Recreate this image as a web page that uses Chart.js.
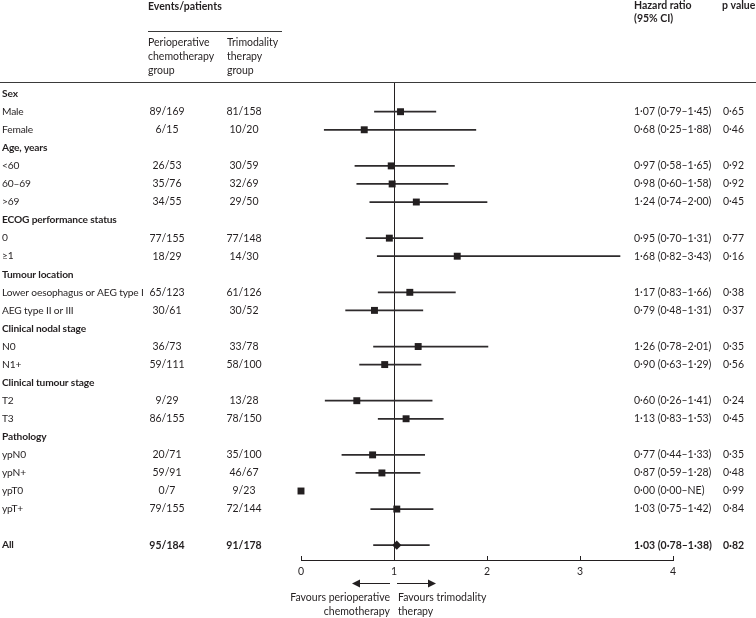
<!DOCTYPE html>
<html>
<head>
<meta charset="utf-8">
<title>Forest plot</title>
<script src="https://cdn.jsdelivr.net/npm/chart.js@4.4.1/dist/chart.umd.min.js"></script>
<style>
  html, body { margin: 0; padding: 0; background: #fff; }
  canvas { display: block; }
</style>
</head>
<body>
<canvas id="forestChart" width="756" height="618"></canvas>
<script>
'use strict';

// ROWS, TOP TO BOTTOM (HEADING ROWS HAVE NO VALUES)
var rowLabels = ["Sex", "Male", "Female", "Age, years", "<60", "60–69", ">69",
    "ECOG performance status", "0", "≥1", "Tumour location",
    "Lower oesophagus or AEG type I", "AEG type II or III", "Clinical nodal stage",
    "N0", "N1+", "Clinical tumour stage", "T2", "T3", "Pathology",
    "ypN0", "ypN+", "ypT0", "ypT+", "", "All"];
var periEvents = ["", "89/169", "6/15", "", "26/53", "35/76", "34/55", "", "77/155", "18/29",
    "", "65/123", "30/61", "", "36/73", "59/111", "", "9/29", "86/155", "",
    "20/71", "59/91", "0/7", "79/155", "", "95/184"];
var trimoEvents = ["", "81/158", "10/20", "", "30/59", "32/69", "29/50", "", "77/148", "14/30",
    "", "61/126", "30/52", "", "33/78", "58/100", "", "13/28", "78/150", "",
    "35/100", "46/67", "9/23", "72/144", "", "91/178"];
var hazardRatio = [null, 1.07, 0.68, null, 0.97, 0.98, 1.24, null, 0.95, 1.68,
    null, 1.17, 0.79, null, 1.26, 0.90, null, 0.60, 1.13, null,
    0.77, 0.87, 0.00, 1.03, null, 1.03];
var ciLow = [null, 0.79, 0.25, null, 0.58, 0.60, 0.74, null, 0.70, 0.82,
    null, 0.83, 0.48, null, 0.78, 0.63, null, 0.26, 0.83, null,
    0.44, 0.59, 0.00, 0.75, null, 0.78];
var ciHigh = [null, 1.45, 1.88, null, 1.65, 1.58, 2.00, null, 1.31, 3.43,
    null, 1.66, 1.31, null, 2.01, 1.29, null, 1.41, 1.53, null,
    1.33, 1.28, null, 1.42, null, 1.38];
var pValues = [null, 0.65, 0.46, null, 0.92, 0.92, 0.45, null, 0.77, 0.16,
    null, 0.38, 0.37, null, 0.35, 0.56, null, 0.24, 0.45, null,
    0.35, 0.48, 0.99, 0.84, null, 0.82];
var totalRow = 25;
var xTicks = [0, 1, 2, 3, 4];

var forestjs = function () {
    var ink = '#231f20';
    var fontFamily = 'Lato, "Open Sans", sans-serif';

    function fmt(v) {
        return v.toFixed(2).replace('.', '·');
    }

    function font(size, bold) {
        return (bold ? 'bold ' : '') + size + 'px ' + fontFamily;
    }

    return {

        init: function () {
            forestjs.handleForestChart();
        },

        //TEXT COLUMNS, RULES AND ARROWS AROUND THE PLOT
        tablePlugin: {
            id: 'forestTable',
            beforeDatasetsDraw: function (chart) {
                var ctx = chart.ctx;
                var area = chart.chartArea;
                var xScale = chart.scales.x;
                var x1 = Math.round(xScale.getPixelForValue(1)) + 0.5;
                ctx.save();
                ctx.strokeStyle = ink;
                ctx.lineWidth = 1;
                ctx.beginPath();
                ctx.moveTo(x1, area.top);
                ctx.lineTo(x1, area.bottom);
                // small upward tick marks on the axis
                xScale.ticks.forEach(function (t) {
                    var tx = Math.round(xScale.getPixelForValue(t.value)) + 0.5;
                    ctx.moveTo(tx, area.bottom);
                    ctx.lineTo(tx, area.bottom - 4);
                });
                ctx.stroke();
                ctx.restore();
            },
            afterDraw: function (chart) {
                var ctx = chart.ctx;
                var yScale = chart.scales.y;
                var x1 = chart.scales.x.getPixelForValue(1);
                ctx.save();
                ctx.fillStyle = ink;
                ctx.strokeStyle = '#3a3a3a';
                ctx.lineWidth = 1;

                // header rules
                ctx.beginPath();
                ctx.moveTo(0, 82.5);
                ctx.lineTo(chart.width, 82.5);
                ctx.moveTo(148, 31.5);
                ctx.lineTo(282, 31.5);
                ctx.stroke();

                // column headings
                ctx.textBaseline = 'middle';
                ctx.textAlign = 'left';
                ctx.font = font(10.5, true);
                ctx.fillText('Events/patients', 148, 7);
                ctx.fillText('Hazard ratio', 634, 6);
                ctx.fillText('(95% CI)', 634, 19);
                ctx.fillText('p value', 722, 6);
                ctx.font = font(10.5, false);
                ctx.fillText('Perioperative', 148, 43);
                ctx.fillText('chemotherapy', 148, 57);
                ctx.fillText('group', 148, 71);
                ctx.fillText('Trimodality', 227, 43);
                ctx.fillText('therapy', 227, 57);
                ctx.fillText('group', 227, 71);

                // one line of text per row
                rowLabels.forEach(function (label, i) {
                    var y = yScale.getPixelForValue(i);
                    var heading = hazardRatio[i] === null;
                    var bold = heading || i === totalRow;
                    ctx.font = font(10.2, bold);
                    ctx.letterSpacing = '-0.15px';
                    ctx.textAlign = 'left';
                    ctx.fillText(label, 2, y);
                    ctx.letterSpacing = '0px';
                    if (heading) {
                        return;
                    }
                    ctx.font = font(10.5, bold);
                    ctx.textAlign = 'center';
                    ctx.fillText(periEvents[i], 167, y);
                    ctx.fillText(trimoEvents[i], 244, y);
                    ctx.textAlign = 'left';
                    var ci = fmt(hazardRatio[i]) + ' (' + fmt(ciLow[i]) + '–' +
                        (ciHigh[i] === null ? 'NE' : fmt(ciHigh[i])) + ')';
                    ctx.fillText(ci, 634, y);
                    ctx.fillText(fmt(pValues[i]), 723, y);
                });

                // favours arrows
                var ay = 583.5;
                ctx.strokeStyle = ink;
                ctx.lineWidth = 1.2;
                ctx.beginPath();
                ctx.moveTo(x1 - 4, ay);
                ctx.lineTo(x1 - 36, ay);
                ctx.moveTo(x1 + 3, ay);
                ctx.lineTo(x1 + 35, ay);
                ctx.stroke();
                ctx.beginPath();
                ctx.moveTo(x1 - 42, ay);
                ctx.lineTo(x1 - 34, ay - 4);
                ctx.lineTo(x1 - 34, ay + 4);
                ctx.closePath();
                ctx.moveTo(x1 + 42, ay);
                ctx.lineTo(x1 + 34, ay - 4);
                ctx.lineTo(x1 + 34, ay + 4);
                ctx.closePath();
                ctx.fill();

                ctx.font = font(10.5, false);
                ctx.textAlign = 'right';
                ctx.fillText('Favours perioperative', x1 - 4, 598);
                ctx.fillText('chemotherapy', x1 - 4, 612);
                ctx.textAlign = 'left';
                ctx.fillText('Favours trimodality', x1 + 4, 598);
                ctx.fillText('therapy', x1 + 4, 612);
                ctx.restore();
            }
        },

        //POPULATE THE FOREST PLOT
        handleForestChart: function () {
            var ciData = [];
            var squareData = [];
            var diamondData = [];
            hazardRatio.forEach(function (v, i) {
                if (v === null) {
                    return;
                }
                if (ciHigh[i] !== null) {
                    ciData.push({ y: i, x: [ciLow[i], ciHigh[i]] });
                }
                if (i === totalRow) {
                    diamondData.push({ x: v, y: i });
                } else {
                    squareData.push({ x: v, y: i });
                }
            });

            new Chart(document.getElementById('forestChart'), {
                type: 'bar',
                data: {
                    datasets: [{
                        type: 'bar',
                        indexAxis: 'y',
                        data: ciData,
                        backgroundColor: '#2e2b2c',
                        barThickness: 1.1,
                        borderWidth: 0,
                        order: 2
                    }, {
                        type: 'scatter',
                        data: squareData,
                        pointStyle: 'rect',
                        pointRadius: 4.9,
                        pointHoverRadius: 4.9,
                        backgroundColor: ink,
                        borderWidth: 0,
                        clip: false,
                        order: 1
                    }, {
                        type: 'scatter',
                        data: diamondData,
                        pointStyle: 'rectRot',
                        pointRadius: 4.6,
                        pointHoverRadius: 4.6,
                        backgroundColor: ink,
                        borderWidth: 0,
                        clip: false,
                        order: 1
                    }]
                },
                options: {
                    responsive: false,
                    animation: false,
                    events: [],
                    layout: {
                        padding: { left: 301, right: 83, top: 82, bottom: 0 }
                    },
                    plugins: {
                        legend: { display: false },
                        tooltip: { enabled: false },
                        title: { display: false }
                    },
                    scales: {
                        x: {
                            type: 'linear',
                            position: 'bottom',
                            offset: false,
                            min: 0,
                            max: 4,
                            afterBuildTicks: function (scale) {
                                scale.ticks = xTicks.map(function (v) { return { value: v }; });
                            },
                            afterFit: function (scale) {
                                scale.height = 58;
                            },
                            grid: { display: false, drawTicks: false, offset: false },
                            border: { display: true, color: ink, width: 1 },
                            ticks: {
                                color: ink,
                                padding: 5,
                                maxRotation: 0,
                                autoSkip: false,
                                font: { family: fontFamily, size: 10.5 },
                                callback: function (v) { return String(v); }
                            }
                        },
                        y: {
                            type: 'linear',
                            reverse: true,
                            offset: false,
                            min: -0.645,
                            max: 25.82,
                            grid: { offset: false },
                            display: false
                        }
                    }
                },
                plugins: [forestjs.tablePlugin]
            });
        }

    };

}();

// Call main function init
forestjs.init();
</script>
</body>
</html>
